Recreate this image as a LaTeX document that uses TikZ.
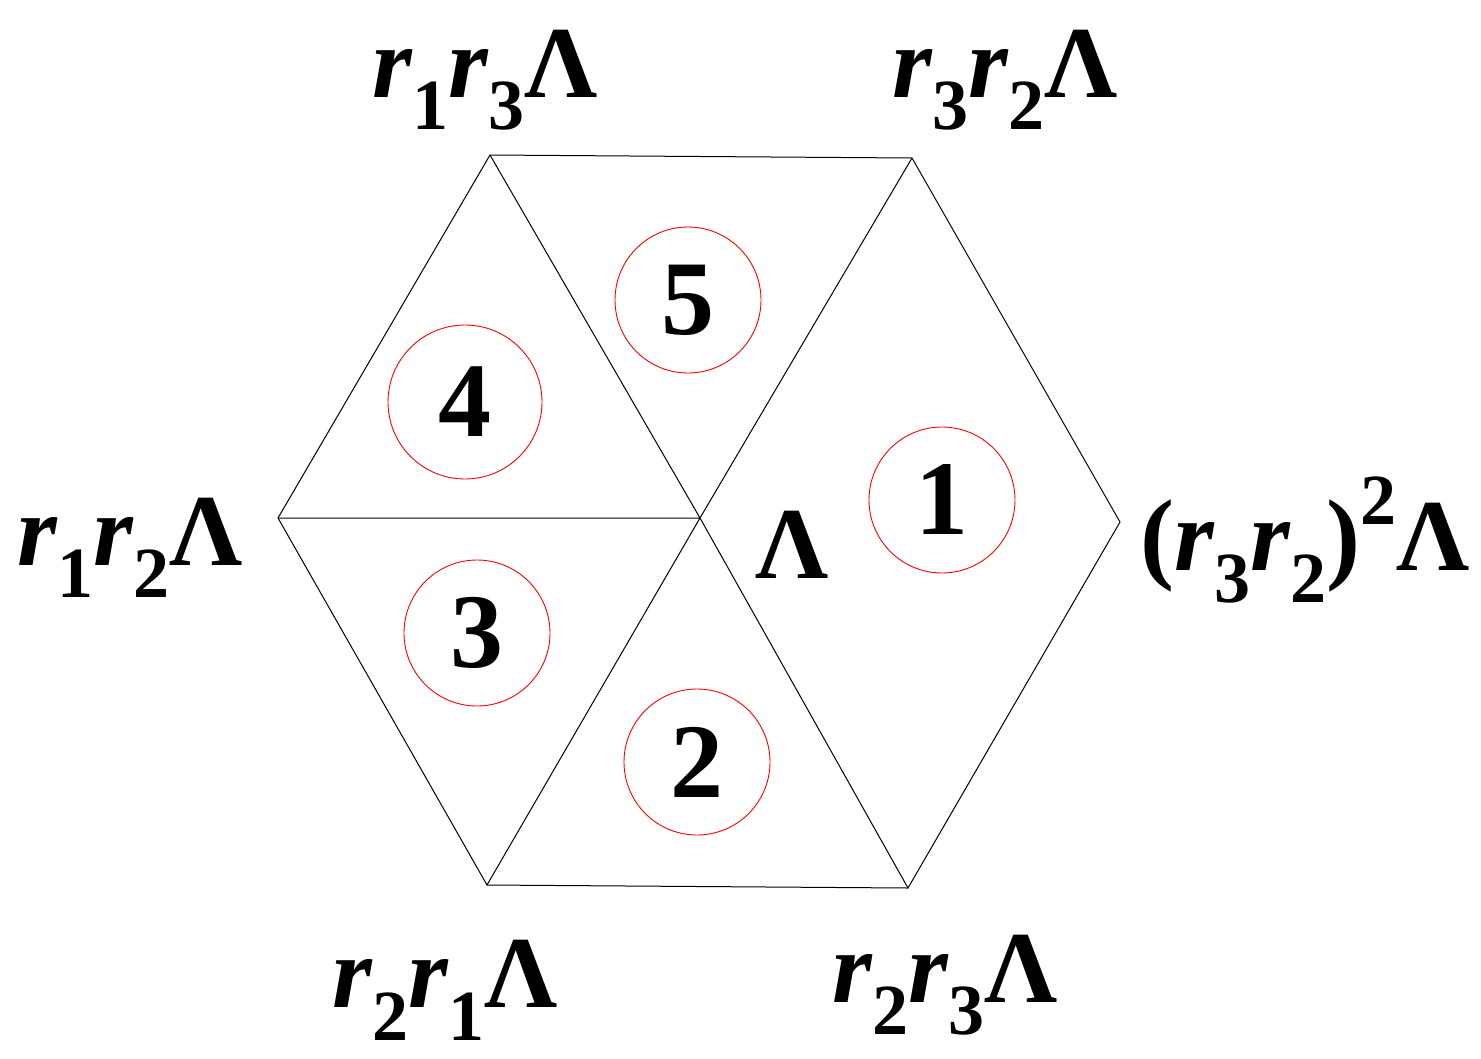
\documentclass[tikz,border=0pt]{standalone}
\usepackage{fontspec}
\setmainfont{Liberation Serif}
\newcommand{\lsub}[1]{\raisebox{-0.32em}{\fontsize{72}{74}\selectfont\bfseries #1}}
\newcommand{\rr}{{\bfseries\itshape r}}
\begin{document}
\begin{tikzpicture}[x=1pt,y=-1pt,
  lab/.style={font=\fontsize{102}{104}\selectfont\bfseries, inner sep=0pt},
  num/.style={draw=red, line width=0.9pt, circle, minimum size=146pt, inner sep=0pt, font=\fontsize{106}{106}\selectfont\bfseries},
  edge/.style={draw=black, line width=1pt}]
\useasboundingbox (0,0) rectangle (1481,1058);
\coordinate (tl) at (490,155);
\coordinate (tr) at (912,158);
\coordinate (r) at (1120,522);
\coordinate (br) at (908,888);
\coordinate (bl) at (487,885);
\coordinate (l) at (278,518);
\coordinate (c) at (700,518);
\draw[edge] (tl)--(tr)--(r)--(br)--(bl)--(l)--cycle;
\draw[edge] (c)--(tl) (c)--(l) (c)--(bl) (c)--(br) (c)--(tr);
\node[num] (n5) at (688,300) {5};
\node[num, minimum size=154pt] (n4) at (465,402) {4};
\node[num] (n1) at (942,500) {1};
\node[num] (n3) at (477,633) {3};
\node[num] (n2) at (697,762) {2};
\node[lab] (a) at (485,80) {\rr\lsub{1}\rr\lsub{3}Λ};
\node[lab] (b) at (1005,80) {\rr\lsub{3}\rr\lsub{2}Λ};
\node[lab] (d) at (130,548) {\rr\lsub{1}\rr\lsub{2}Λ};
\node[lab] (e) at (792,545) {Λ};
\node[lab] (f) at (1305,540) {(\rr\lsub{3}\rr\lsub{2})\raisebox{0.45em}{\fontsize{72}{74}\selectfont\bfseries 2}Λ};
\node[lab] (g) at (445,990) {\rr\lsub{2}\rr\lsub{1}Λ};
\node[lab] (h) at (945,985) {\rr\lsub{2}\rr\lsub{3}Λ};
\end{tikzpicture}
\end{document}
